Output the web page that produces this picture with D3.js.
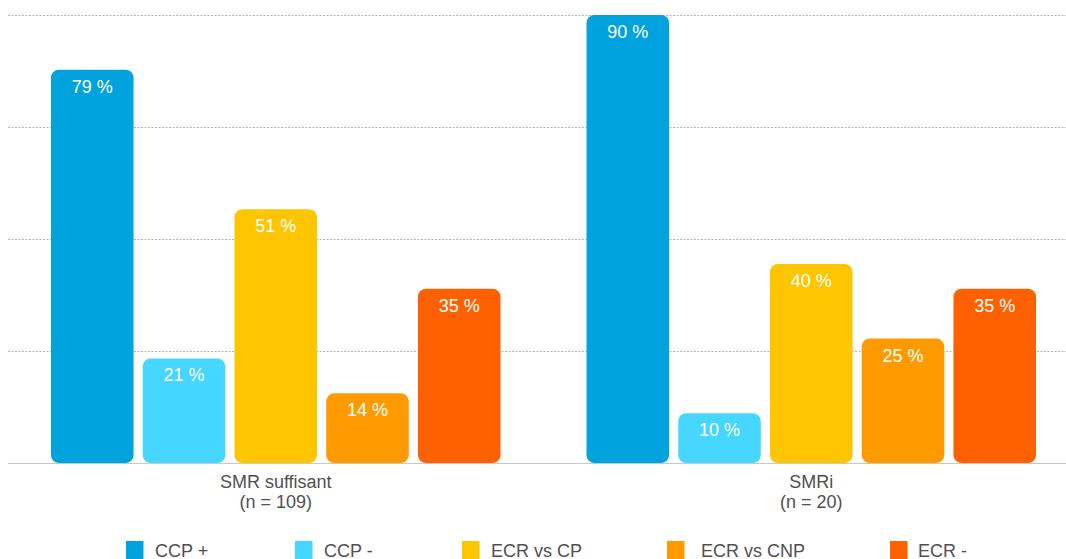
<!DOCTYPE html>
<html>
<head>
<meta charset="utf-8">
<script src="https://cdn.jsdelivr.net/npm/d3@7"></script>
<style>
  html, body { margin: 0; padding: 0; background: #fff; }
  svg { display: block; font-family: "Liberation Sans", Arial, Helvetica, sans-serif; }
</style>
</head>
<body>
<svg id="chart" width="1066" height="559"></svg>
<script>
// ---- data ----
const categories = ["SMR suffisant", "SMRi"];
const categorySub = ["(n = 109)", "(n = 20)"];
const seriesNames = ["CCP +", "CCP -", "ECR vs CP", "ECR vs CNP", "ECR -"];
const seriesColors = ["#00A3DE", "#45D7FF", "#FDC600", "#FF9B00", "#FF6100"];
const ccpPlus = [79, 90];
const ccpMinus = [21, 10];
const ecrVsCp = [51, 40];
const ecrVsCnp = [14, 25];
const ecrMinus = [35, 35];
const gridTicks = [0, 22.5, 45, 67.5, 90];

const seriesValues = [ccpPlus, ccpMinus, ecrVsCp, ecrVsCnp, ecrMinus];

// ---- layout ----
const W = 1066, H = 559;
const legendSquareX = [126, 295, 462, 667, 890];
const legendTextX = [155, 324, 491, 701, 918];
const svg = d3.select("#chart");

const y = d3.scaleLinear().domain([0, 90]).range([463, 15]);
const x0 = d3.scaleBand().domain(categories).range([8, 1079]).padding(0);
const x1 = d3.scaleBand().domain(seriesNames)
  .range([43, x0.bandwidth() - 43]).paddingInner(0.1).paddingOuter(0);

// gridlines
svg.append("g").selectAll("line")
  .data(gridTicks.filter(t => t > 0))
  .join("line")
  .attr("x1", 8).attr("x2", W)
  .attr("y1", d => Math.round(y(d)) + 0.5).attr("y2", d => Math.round(y(d)) + 0.5)
  .attr("stroke", "#b4b4b4").attr("stroke-width", 1)
  .attr("stroke-dasharray", "2,1.5");

// bars
const groups = svg.append("g").selectAll("g")
  .data(categories)
  .join("g")
  .attr("transform", d => `translate(${x0(d)},0)`);

groups.each(function(cat, ci) {
  const g = d3.select(this);
  const rows = seriesNames.map((s, si) => ({ s, si, v: seriesValues[si][ci] }));
  g.selectAll("rect")
    .data(rows)
    .join("rect")
    .attr("x", d => x1(d.s))
    .attr("width", x1.bandwidth())
    .attr("y", d => y(d.v))
    .attr("height", d => y(0) - y(d.v))
    .attr("rx", 8).attr("ry", 8)
    .attr("fill", d => seriesColors[d.si]);
  g.selectAll("text.val")
    .data(rows)
    .join("text")
    .attr("class", "val")
    .attr("x", d => x1(d.s) + x1.bandwidth() / 2)
    .attr("y", d => y(d.v) + 23)
    .attr("text-anchor", "middle")
    .attr("fill", "#fff")
    .attr("font-size", 18)
    .text(d => d.v + " %");
});

// baseline
svg.append("line")
  .attr("x1", 8).attr("x2", W)
  .attr("y1", y(0) + 0.5).attr("y2", y(0) + 0.5)
  .attr("stroke", "#c8c8c8").attr("stroke-width", 1.2);

// category labels
const xAxis = d3.axisBottom(x0).tickSize(0).tickFormat(() => "");
const axisG = svg.append("g").attr("transform", `translate(0,${y(0)})`).call(xAxis);
axisG.select(".domain").remove();
axisG.selectAll(".tick").each(function(d, i) {
  const t = d3.select(this).append("text")
    .attr("text-anchor", "middle")
    .attr("fill", "#505050")
    .attr("font-size", 18)
    .attr("font-family", '"Liberation Sans", Arial, sans-serif');
  t.append("tspan").attr("x", 0).attr("y", 25).text(d);
  t.append("tspan").attr("x", 0).attr("y", 45).text(categorySub[i]);
});

// legend
const legend = svg.append("g");
const items = legend.selectAll("g").data(seriesNames).join("g");
items.append("rect")
  .attr("x", (d, i) => legendSquareX[i])
  .attr("width", 17.5).attr("height", 18)
  .attr("y", 541)
  .attr("fill", (d, i) => seriesColors[i]);
items.append("text")
  .attr("x", (d, i) => legendTextX[i]).attr("y", 557)
  .attr("fill", "#505050").attr("font-size", 18)
  .text(d => d);
</script>
</body>
</html>
